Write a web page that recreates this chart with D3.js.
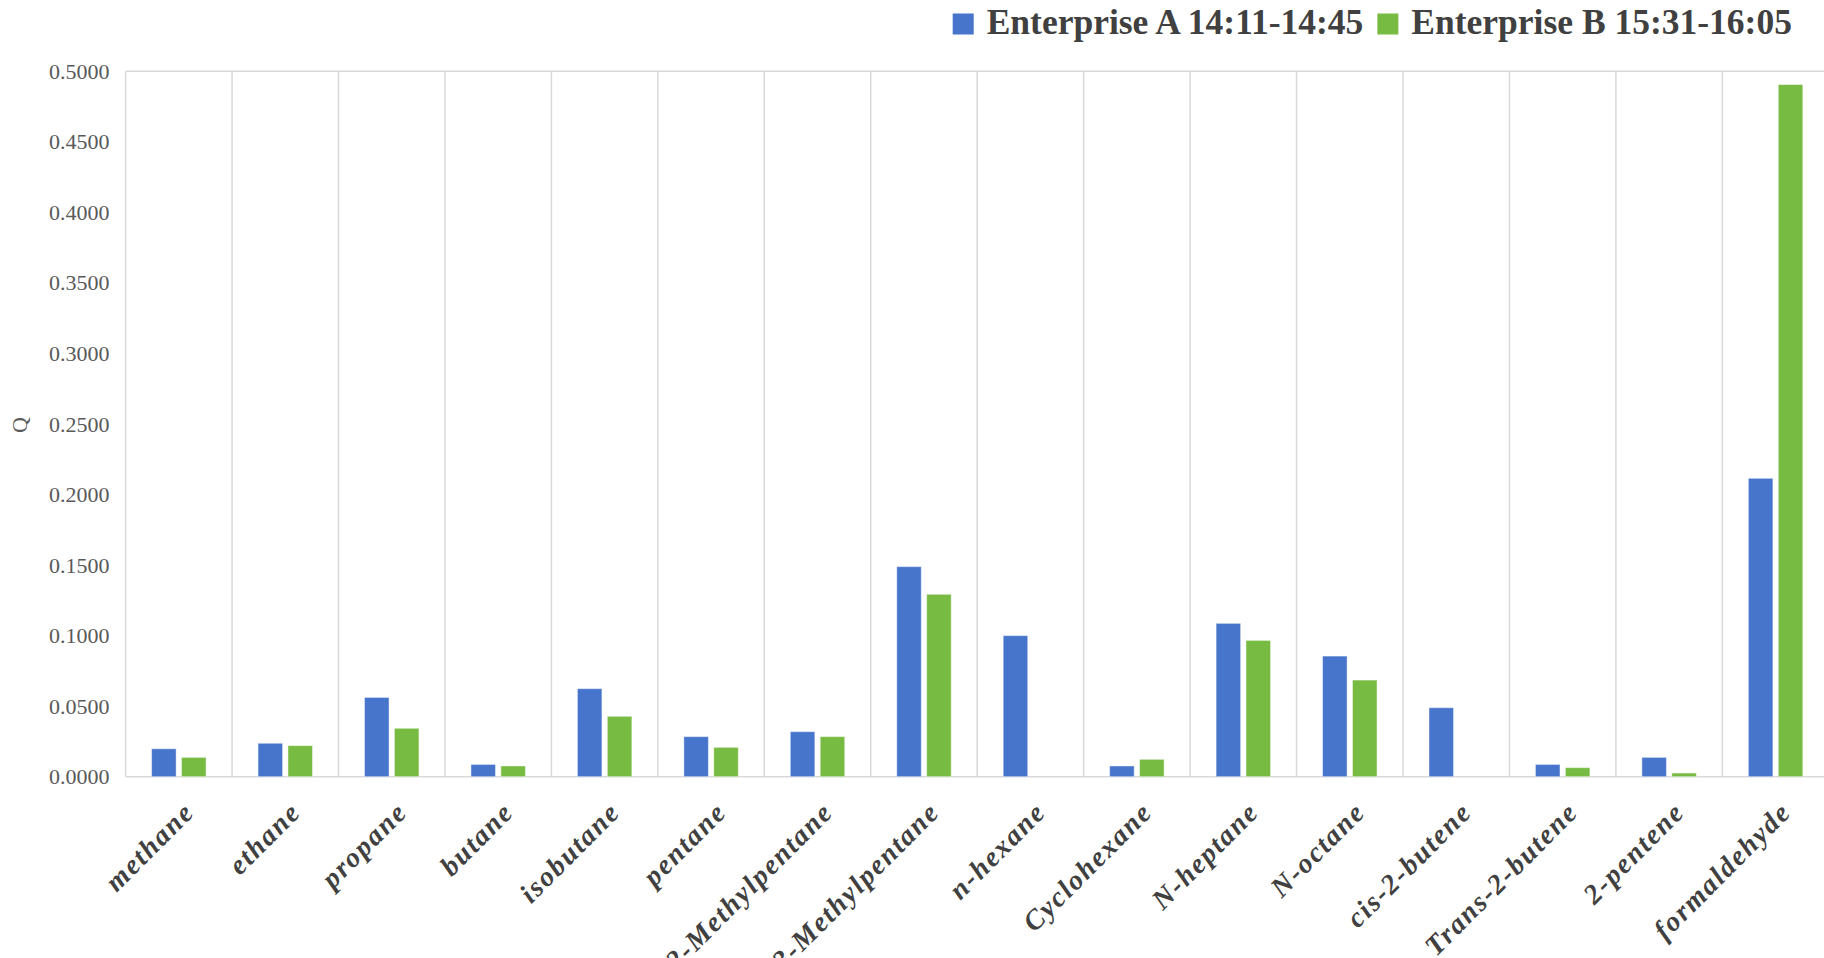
<!DOCTYPE html>
<html>
<head>
<meta charset="utf-8">
<script src="https://cdn.jsdelivr.net/npm/d3@7"></script>
<style>
  html, body { margin: 0; padding: 0; background: #fff; overflow: hidden; }
  svg { display: block; }
</style>
</head>
<body>
<svg id="chart" width="1824" height="958"></svg>
<script>
const categories = ["methane","ethane","propane","butane","isobutane","pentane","2-Methylpentane","3-Methylpentane","n-hexane","Cyclohexane","N-heptane","N-octane","cis-2-butene","Trans-2-butene","2-pentene","formaldehyde"];
const seriesNames = ["Enterprise A 14:11-14:45", "Enterprise B 15:31-16:05"];
const valuesA = [0.0198,0.0237,0.0562,0.0087,0.0624,0.0284,0.0319,0.1489,0.1000,0.0076,0.1087,0.0855,0.0489,0.0087,0.0137,0.2115];
const valuesB = [0.0137,0.0220,0.0343,0.0076,0.0428,0.0208,0.0284,0.1293,0.0000,0.0123,0.0966,0.0685,0.0000,0.0064,0.0026,0.4906];
const yTicks = [0,0.05,0.1,0.15,0.2,0.25,0.3,0.35,0.4,0.45,0.5];
const yTitle = "Q";

(function () {
const colors = ["#4775cc", "#77bb42"];
const svg = d3.select("#chart");

const plotLeft = 125.6, bandW = 106.45;
const plotRight = plotLeft + categories.length * bandW;
const plotTop = 71.3, plotBottom = 776.7;

const x0 = d3.scaleBand().domain(categories).range([plotLeft, plotRight]).paddingInner(0).paddingOuter(0);
const x1 = d3.scaleBand().domain([0,1]).range([26, bandW - 26]).paddingInner(0.18);
const y = d3.scaleLinear().domain([0, 0.5]).range([plotBottom, plotTop]);

const grid = svg.append("g");
const bounds = categories.map(c => x0(c)).concat([plotRight]);
grid.selectAll("line.v").data(bounds).enter().append("line")
  .attr("x1", d => d).attr("x2", d => d)
  .attr("y1", y(0.5)).attr("y2", y(0))
  .attr("stroke", "#d9d9d9").attr("stroke-width", 1.5);
grid.selectAll("line.h").data([0, 0.5]).enter().append("line")
  .attr("x1", plotLeft).attr("x2", plotRight)
  .attr("y1", d => y(d)).attr("y2", d => y(d))
  .attr("stroke", "#d9d9d9").attr("stroke-width", 1.5);

const yAxis = d3.axisLeft(y).tickValues(yTicks).tickFormat(d3.format(".4f")).tickSize(0).tickPadding(16);
const yg = svg.append("g").attr("transform", `translate(${plotLeft},0)`).call(yAxis);
yg.select(".domain").remove();
yg.selectAll("text").attr("font-family", "'Liberation Serif', 'Times New Roman', serif")
  .attr("font-size", 22).attr("fill", "#595959");

svg.append("text").attr("transform", "translate(27,425) rotate(-90)")
  .attr("text-anchor", "middle")
  .attr("font-family", "'Liberation Serif', 'Times New Roman', serif")
  .attr("font-size", 22).attr("fill", "#595959").text(yTitle);

const data = categories.map((c, i) => ({ c, v: [valuesA[i], valuesB[i]] }));
const groups = svg.append("g").selectAll("g").data(data).enter().append("g")
  .attr("transform", d => `translate(${x0(d.c)},0)`);
groups.selectAll("rect").data(d => d.v.map((v, k) => ({ v, k })).filter(e => e.v > 0)).enter().append("rect")
  .attr("x", d => x1(d.k)).attr("width", x1.bandwidth())
  .attr("y", d => y(d.v)).attr("height", d => y(0) - y(d.v))
  .attr("fill", d => colors[d.k])
  .attr("stroke", "rgba(255,255,255,0.45)").attr("stroke-width", 1);

const xg = svg.append("g");
xg.selectAll("text").data(categories).enter().append("text")
  .attr("transform", d => `translate(${x0(d) + bandW / 2 + 17},${plotBottom + 37}) rotate(-45)`)
  .attr("text-anchor", "end")
  .attr("font-family", "'Liberation Serif', 'Times New Roman', serif")
  .attr("font-weight", "bold").attr("font-style", "italic")
  .attr("font-size", 28).attr("letter-spacing", 1.8)
  .attr("fill", "#404040").text(d => d);

const lg = svg.append("g");
let lx = 952.7;
seriesNames.forEach((name, k) => {
  lg.append("rect").attr("x", lx).attr("y", 13.5).attr("width", 21).attr("height", 21).attr("fill", colors[k]);
  const t = lg.append("text").attr("x", lx + 34).attr("y", 34)
    .attr("font-family", "'Liberation Serif', 'Times New Roman', serif")
    .attr("font-weight", "bold").attr("font-size", 35.5).attr("fill", "#404040").text(name);
  lx = lx + 34 + t.node().getComputedTextLength() + 14;
});
})();
</script>
</body>
</html>
